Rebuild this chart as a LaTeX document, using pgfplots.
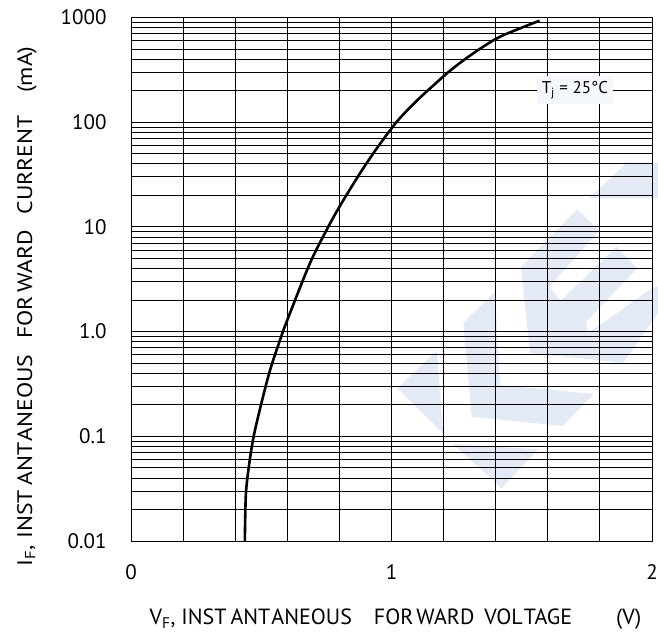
\documentclass[border=0pt]{standalone}
\usepackage{fontspec}
\setmainfont{PT Sans}
\usepackage{graphicx}
\usepackage{pgfplots}
\pgfplotsset{compat=1.18}
\definecolor{wm}{RGB}{227,234,246}
\definecolor{boxbg}{RGB}{244,247,252}

\begin{document}
\begin{tikzpicture}
\path[use as bounding box] (-131pt,-93pt) rectangle (527pt,541pt);
% watermark behind the grid
\begin{scope}[x=1pt,y=1pt]
\fill[wm] (495.7,378.3) -- (527,378.3) -- (527,342.7) -- (458.3,342.7) -- cycle;
\fill[wm] (266.3,152.7) -- (305.7,190.3) -- (312.3,107.7) -- cycle;
\fill[wm] (321.7,97) -- (407.3,91.7) -- (370.7,52.7) -- cycle;
\fill[wm] (332.3,218.3) -- (364,249.3) -- (369,156) -- (463,147) -- (431.7,115) -- (340.7,124.3) -- cycle;
\fill[wm] (390,274.3) -- (446.3,331.7) -- (468.3,310.3) -- (418.3,254.3) -- (429.7,240.3)
  -- (485.7,294.3) -- (506.3,272.7) -- (455,219.3) -- (457.3,207.7) -- (520.7,252.7)
  -- (527,254.3) -- (527,227.7) -- (492.3,178.3) -- (399,187.7) -- cycle;
\end{scope}
\begin{axis}[
  scale only axis,
  width=521pt, height=523.5pt,
  xmin=0, xmax=2,
  ymode=log, ymin=0.01, ymax=1000,
  xtick={0,1,2},
  minor xtick={0.2,0.4,0.6,0.8,1.2,1.4,1.6,1.8},
  ytick={0.01,0.1,1,10,100,1000},
  yticklabels={0.01,0.1,1.0,10,100,1000},
  minor ytick={0.02,0.03,0.04,0.05,0.06,0.07,0.08,0.09,
               0.2,0.3,0.4,0.5,0.6,0.7,0.8,0.9,
               2,3,4,5,6,7,8,9,
               20,30,40,50,60,70,80,90,
               200,300,400,500,600,700,800,900},
  grid=both,
  major grid style={black, line width=0.9pt},
  minor grid style={black, line width=0.9pt},
  axis line style={black, line width=0.9pt},
  major tick length=0pt, minor tick length=0pt,
  tick style={draw=none},
  /pgf/number format/assume math mode=true,
  tick label style={font=\fontsize{21}{24}\selectfont},
  yticklabel style={xshift=-21pt},
  xticklabel style={yshift=-20pt},
  label style={font=\fontsize{21}{24}\selectfont},
  xlabel={V\textsubscript{F}, INST\hspace{4pt}ANT\hspace{1pt}ANEOUS\hspace{22pt}FOR\hspace{3pt}WARD\hspace{10pt}VOL\hspace{1pt}TAGE\hspace{44pt}(V)},
  xlabel style={at={(axis description cs:0.5077,-0.149)}, anchor=center,
    font=\fontsize{22}{24}\selectfont},
  ylabel={\scalebox{1.13}[1]{I\textsubscript{F}, INST\hspace{4pt}ANT\hspace{1pt}ANEOUS\hspace{14pt}FOR\hspace{3pt}WARD\hspace{14pt}CURRENT\hspace{20pt}(mA)}},
  ylabel style={at={(axis description cs:-0.1996,0.448)}, anchor=center},
]
\addplot[black, line width=2.6pt, smooth] coordinates {
  (0.437,0.01) (0.441,0.028) (0.454,0.055) (0.472,0.103) (0.502,0.214)
  (0.534,0.43) (0.572,0.83) (0.600,1.29) (0.687,4.5) (0.757,10)
  (0.808,16.8) (0.879,32.5) (0.943,56) (1.013,96) (1.058,128)
  (1.113,175) (1.217,299) (1.286,406) (1.352,526) (1.424,668) (1.568,932)
};
\node[fill=boxbg, inner xsep=5pt, minimum height=28pt,
  font=\fontsize{17}{20}\selectfont] at (axis cs:1.704,203) {T\textsubscript{j} = 25°C};
\end{axis}
\end{tikzpicture}
\end{document}
